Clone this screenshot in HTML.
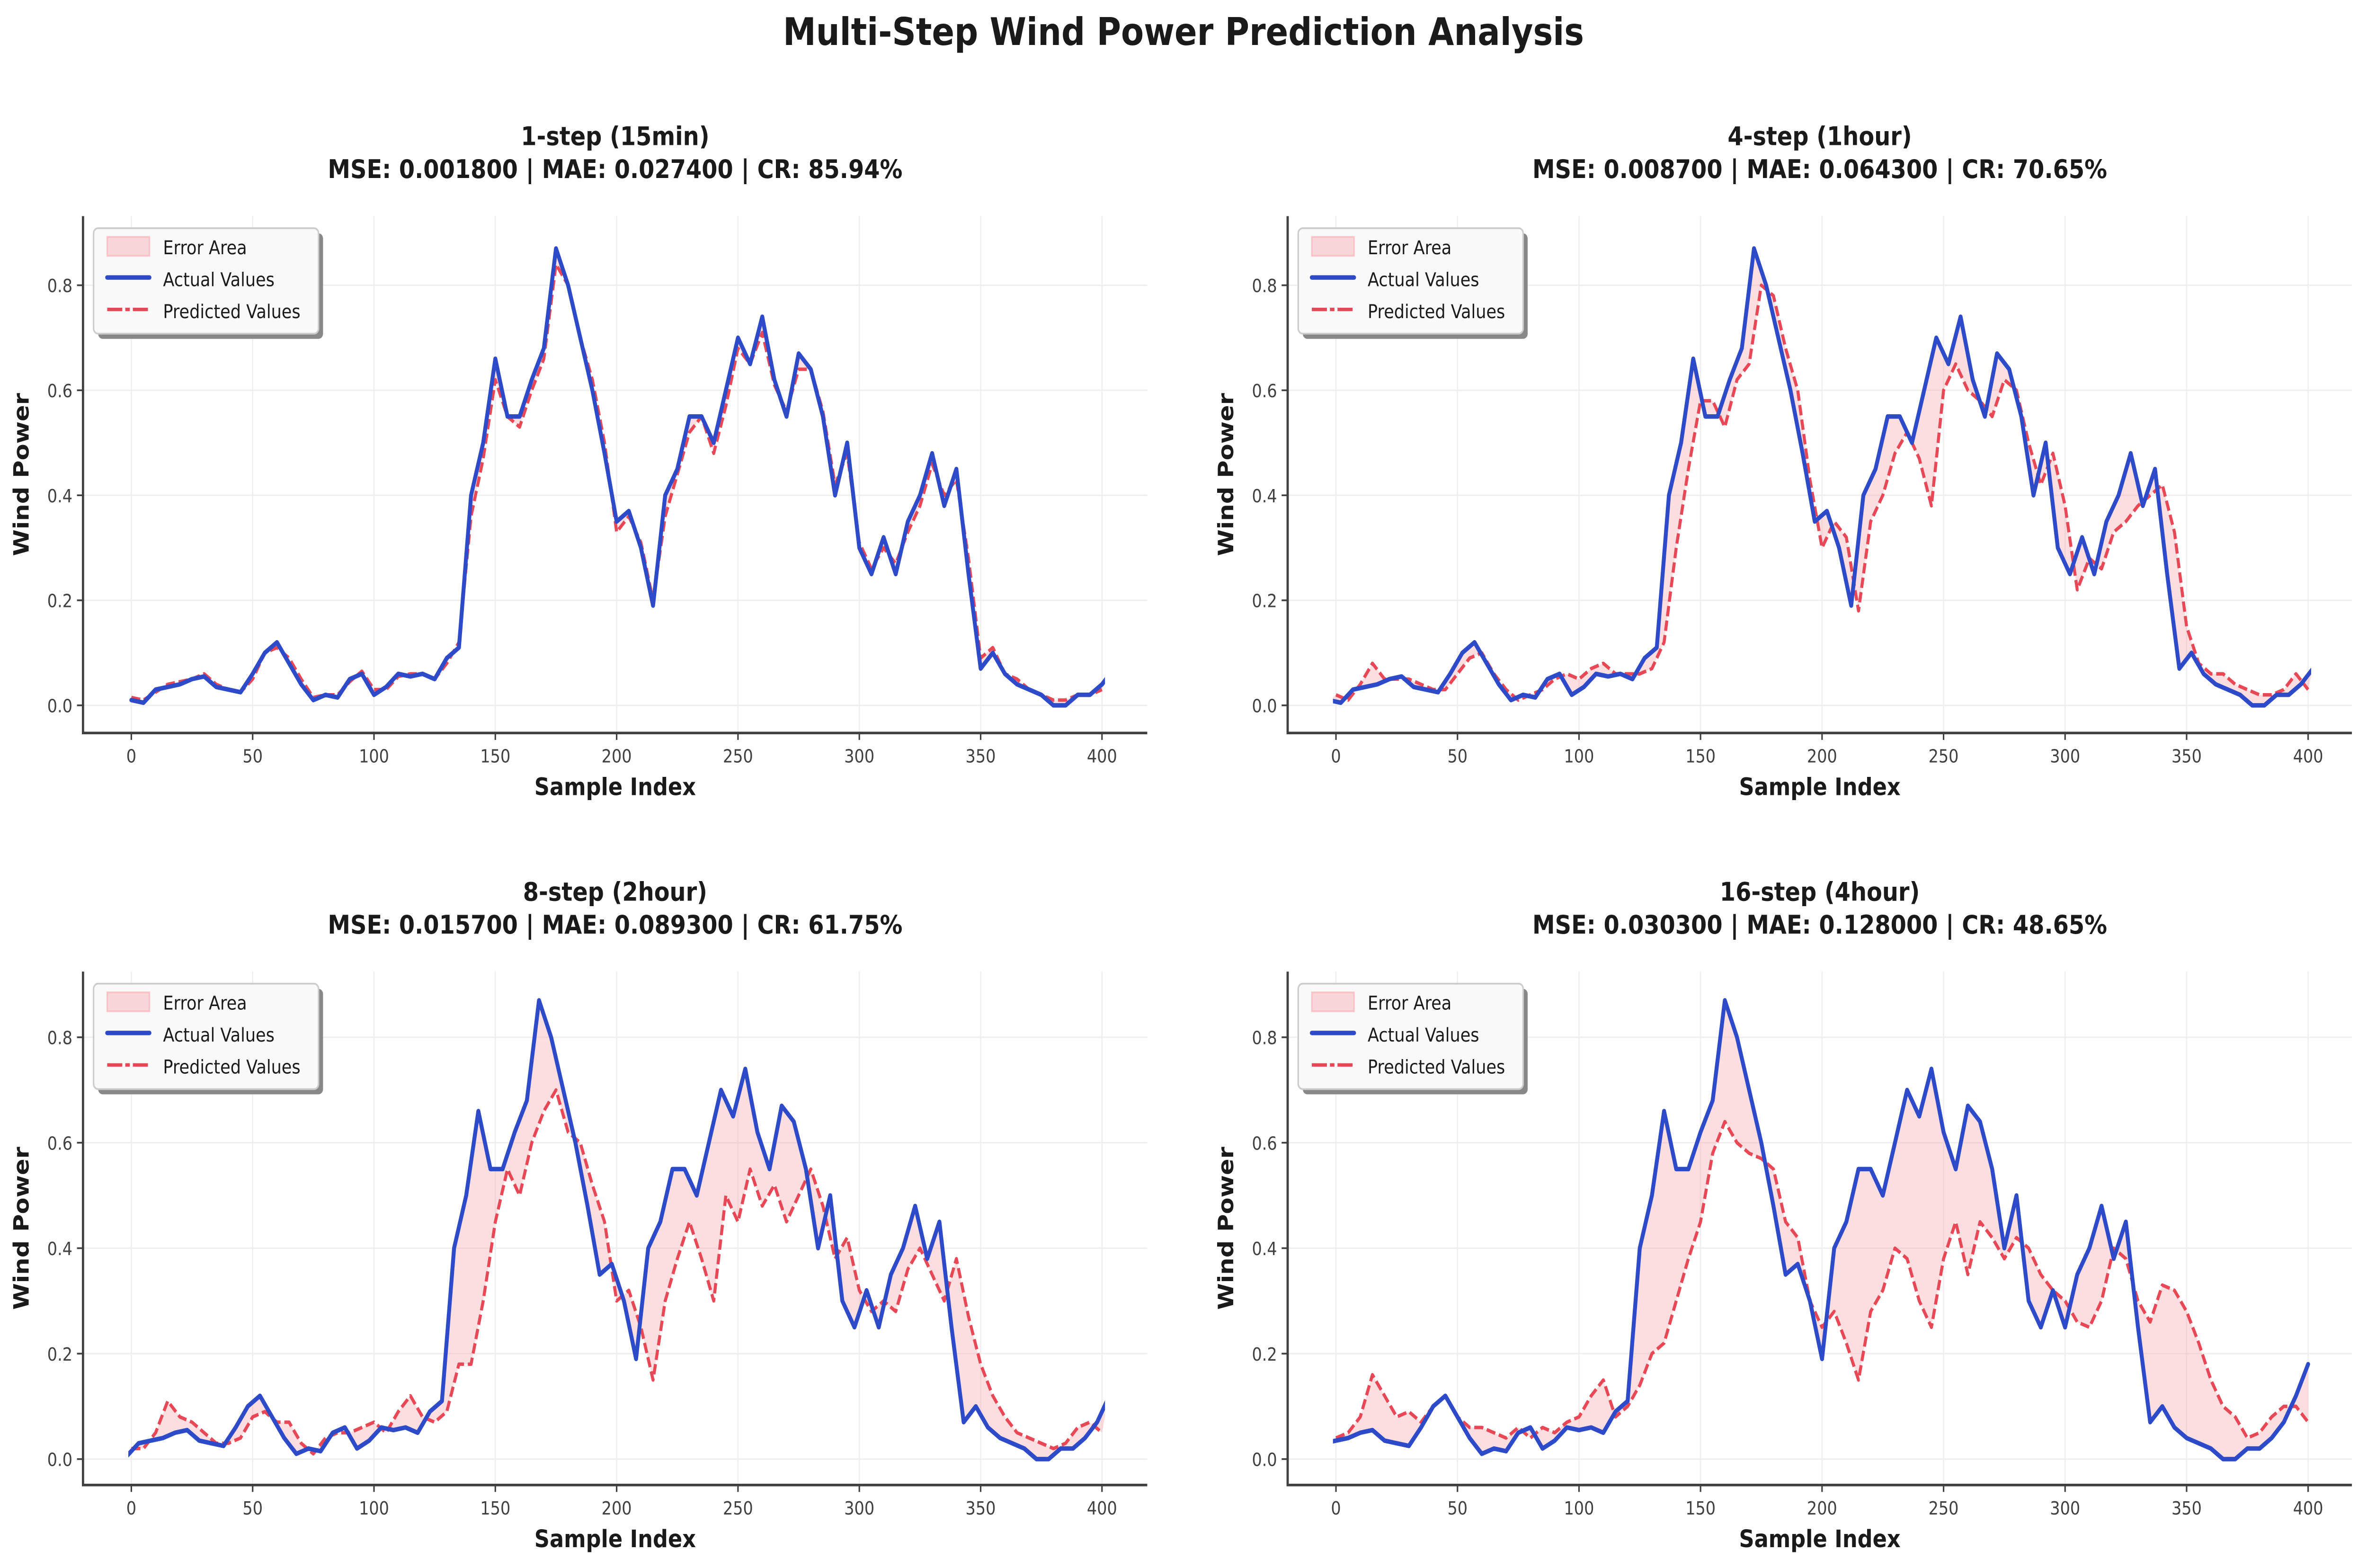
<!DOCTYPE html>
<html><head><meta charset="utf-8">
<style>
html,body{margin:0;padding:0;background:#fff;width:100%;height:100%;overflow:hidden;}
svg{display:block;width:100vw;height:100vh;}
text{font-family:"DejaVu Sans","Liberation Sans",sans-serif;}
</style></head>
<body>
<svg viewBox="0 0 1568 907" preserveAspectRatio="none" xmlns="http://www.w3.org/2000/svg">
<g id="fig">
<rect width="1568" height="907" fill="#fff"/>
<text x="784" y="26" text-anchor="middle" font-size="22" font-weight="bold" fill="#1a1a1a">Multi-Step Wind Power Prediction Analysis</text>
</g>
</svg>
<script>
// sample index step between stored values
const step = 5;
const actualValues = [0.01,0.005,0.03,0.035,0.04,0.05,0.055,0.035,0.03,0.025,0.06,0.10,0.12,0.08,0.04,0.01,0.02,0.015,0.05,0.06,0.02,0.035,0.06,0.055,0.06,0.05,0.09,0.11,0.40,0.50,0.66,0.55,0.55,0.62,0.68,0.87,0.80,0.70,0.60,0.48,0.35,0.37,0.30,0.19,0.40,0.45,0.55,0.55,0.50,0.60,0.70,0.65,0.74,0.62,0.55,0.67,0.64,0.55,0.40,0.50,0.30,0.25,0.32,0.25,0.35,0.40,0.48,0.38,0.45,0.25,0.07,0.10,0.06,0.04,0.03,0.02,0.00,0.00,0.02,0.02,0.04,0.07,0.12,0.18];
const pred1 = [0.015,0.01,0.025,0.04,0.045,0.05,0.06,0.04,0.03,0.025,0.05,0.10,0.11,0.09,0.05,0.015,0.02,0.02,0.045,0.065,0.03,0.03,0.055,0.06,0.06,0.05,0.08,0.12,0.36,0.47,0.62,0.55,0.53,0.60,0.66,0.84,0.80,0.70,0.62,0.50,0.33,0.36,0.31,0.20,0.36,0.44,0.52,0.55,0.48,0.57,0.68,0.65,0.71,0.61,0.56,0.64,0.64,0.56,0.42,0.48,0.31,0.26,0.30,0.27,0.33,0.38,0.46,0.40,0.43,0.28,0.09,0.11,0.06,0.05,0.03,0.02,0.01,0.01,0.02,0.02,0.03];
const pred2 = [0.02,0.01,0.04,0.08,0.05,0.05,0.05,0.04,0.03,0.03,0.06,0.09,0.10,0.06,0.03,0.01,0.02,0.03,0.05,0.06,0.05,0.07,0.08,0.06,0.06,0.06,0.07,0.12,0.30,0.45,0.58,0.58,0.53,0.62,0.65,0.80,0.78,0.68,0.60,0.43,0.30,0.35,0.32,0.18,0.35,0.40,0.48,0.52,0.47,0.38,0.60,0.65,0.60,0.58,0.55,0.62,0.60,0.50,0.42,0.48,0.38,0.22,0.28,0.26,0.33,0.35,0.38,0.40,0.42,0.33,0.15,0.08,0.06,0.06,0.04,0.03,0.02,0.02,0.03,0.06,0.03];
const pred3 = [0.02,0.02,0.05,0.11,0.08,0.07,0.05,0.03,0.03,0.04,0.08,0.09,0.07,0.07,0.03,0.01,0.04,0.05,0.05,0.06,0.07,0.05,0.09,0.12,0.08,0.07,0.09,0.18,0.18,0.30,0.45,0.55,0.50,0.60,0.66,0.70,0.62,0.60,0.52,0.45,0.30,0.32,0.25,0.15,0.30,0.38,0.45,0.38,0.30,0.50,0.45,0.55,0.48,0.52,0.45,0.50,0.55,0.48,0.38,0.42,0.32,0.28,0.30,0.28,0.36,0.40,0.35,0.30,0.38,0.27,0.18,0.12,0.08,0.05,0.04,0.03,0.02,0.03,0.06,0.07,0.05];
const pred4 = [0.04,0.05,0.08,0.16,0.12,0.08,0.09,0.07,0.10,0.12,0.08,0.06,0.06,0.05,0.04,0.06,0.04,0.06,0.05,0.07,0.08,0.12,0.15,0.08,0.10,0.14,0.20,0.22,0.30,0.38,0.45,0.58,0.64,0.60,0.58,0.57,0.55,0.45,0.42,0.30,0.25,0.28,0.22,0.15,0.28,0.32,0.40,0.38,0.30,0.25,0.38,0.45,0.35,0.45,0.42,0.38,0.42,0.40,0.35,0.32,0.30,0.26,0.25,0.30,0.40,0.38,0.30,0.26,0.33,0.32,0.28,0.22,0.15,0.10,0.08,0.04,0.05,0.08,0.10,0.10,0.07];
const panelTitles = ["1-step (15min)","4-step (1hour)","8-step (2hour)","16-step (4hour)"];
const mseValues = ["0.001800","0.008700","0.015700","0.030300"];
const maeValues = ["0.027400","0.064300","0.089300","0.128000"];
const crValues = ["85.94%","70.65%","61.75%","48.65%"];
const actualOffsets = [0,3,7,15];
const xTicks = [0,50,100,150,200,250,300,350,400];
const yTicks = [0.0,0.2,0.4,0.6,0.8];
const yTickLabels = ["0.0","0.2","0.4","0.6","0.8"];

const NS="http://www.w3.org/2000/svg";
const svg=document.getElementById('fig');
function mk(tag,attrs,parent){const e=document.createElementNS(NS,tag);for(const k in attrs)e.setAttribute(k,attrs[k]);(parent||svg).appendChild(e);return e;}

const panels=[
 {x0:87,x1:730,left:55,right:760,top:125,bottom:424,y0:408,y8:165},
 {x0:885,x1:1529,left:853,right:1558,top:125,bottom:424,y0:408,y8:165},
 {x0:87,x1:730,left:55,right:760,top:562,bottom:859,y0:844,y8:600},
 {x0:885,x1:1529,left:853,right:1558,top:562,bottom:859,y0:844,y8:600}];
const preds=[pred1,pred2,pred3,pred4];

panels.forEach((p,k)=>{
  const sx=v=>p.x0+(p.x1-p.x0)*v/400;
  const sy=v=>p.y0+(p.y8-p.y0)*v/0.8;
  const g=mk('g',{});
  
  
  const clip=mk('clipPath',{id:'c'+k},g);
  mk('rect',{x:sx(0)-2,y:p.top,width:sx(400)-sx(0)+4,height:p.bottom-p.top},clip);
  xTicks.forEach(t=>{const l=mk('line',{x1:sx(t),x2:sx(t),y1:p.top,y2:p.bottom,stroke:'#eee','stroke-width':0.8},g);
    });
  yTicks.forEach(t=>{const l=mk('line',{x1:p.left,x2:p.right,y1:sy(t),y2:sy(t),stroke:'#eee','stroke-width':0.8},g);
    });
  const aPts=[];actualValues.forEach((v,i)=>{const xi=i*step-actualOffsets[k];if(xi>=-step&&xi<=400+step)aPts.push([sx(xi),sy(v)]);});
  const pPts=preds[k].map((v,i)=>[sx(i*step),sy(v)]);
  const dg=mk('g',{'clip-path':'url(#c'+k+')'},g);
  const fill=mk('polygon',{points:aPts.concat(pPts.slice().reverse()).map(q=>q.join(',')).join(' '),fill:'#f7a1aa','fill-opacity':0.35,stroke:'none'},dg);
  
  const pl=mk('polyline',{points:pPts.map(q=>q.join(',')).join(' '),fill:'none',stroke:'#e84855','stroke-width':2,'stroke-dasharray':'6 2.5','stroke-linejoin':'round'},dg);
  
  const al=mk('polyline',{points:aPts.map(q=>q.join(',')).join(' '),fill:'none',stroke:'#2d4ac8','stroke-width':2.6,'stroke-linejoin':'round','stroke-linecap':'round'},dg);
  
  mk('line',{x1:p.left,x2:p.left,y1:p.top,y2:p.bottom+0.75,stroke:'#404040','stroke-width':1.5},g);
  mk('line',{x1:p.left,x2:p.right,y1:p.bottom,y2:p.bottom,stroke:'#404040','stroke-width':1.5},g);
  xTicks.forEach(t=>{mk('line',{x1:sx(t),x2:sx(t),y1:p.bottom,y2:p.bottom+4,stroke:'#404040','stroke-width':1},g);
    const tx=mk('text',{x:sx(t),y:p.bottom+17,'text-anchor':'middle','font-size':10.5,fill:'#404040'},g);tx.textContent=t;
    });
  yTicks.forEach((t,i)=>{mk('line',{x1:p.left-4,x2:p.left,y1:sy(t),y2:sy(t),stroke:'#404040','stroke-width':1},g);
    const tx=mk('text',{x:p.left-7,y:sy(t)+4,'text-anchor':'end','font-size':10.5,fill:'#404040'},g);tx.textContent=yTickLabels[i];
    });
  const xl=mk('text',{x:(p.left+p.right)/2,y:p.bottom+36,'text-anchor':'middle','font-size':14,'font-weight':'bold',fill:'#1a1a1a'},g);xl.textContent='Sample Index';
  
  const yc=(p.top+p.bottom)/2, yx=p.left-36;
  const yl=mk('text',{x:yx,y:yc,'text-anchor':'middle','font-size':14,'font-weight':'bold',fill:'#1a1a1a',transform:'rotate(-90 '+yx+' '+yc+')'},g);yl.textContent='Wind Power';
  
  const cx=(p.left+p.right)/2;
  const t1=mk('text',{x:cx,y:p.top-41,'text-anchor':'middle','font-size':15,'font-weight':'bold',fill:'#1a1a1a'},g);t1.textContent=panelTitles[k];
  
  const t2=mk('text',{x:cx,y:p.top-22,'text-anchor':'middle','font-size':15,'font-weight':'bold',fill:'#1a1a1a'},g);
  t2.textContent='MSE: '+mseValues[k]+' | MAE: '+maeValues[k]+' | CR: '+crValues[k];
  
  const lg=mk('g',{},g);
  const lx=p.left+7, ly=p.top+7;
  mk('rect',{x:lx+3,y:ly+3,width:149,height:61,rx:3,fill:'#888'},lg);
  mk('rect',{x:lx,y:ly,width:149,height:61,rx:3,fill:'#f9f9f9',stroke:'#ccc','stroke-width':1},lg);
  mk('rect',{x:lx+9,y:ly+5,width:28,height:11,fill:'#f7a1aa','fill-opacity':0.4,stroke:'#f7a1aa','stroke-opacity':0.5},lg);
  mk('line',{x1:lx+9,x2:lx+37,y1:ly+28.5,y2:ly+28.5,stroke:'#2d4ac8','stroke-width':2.6,'stroke-linecap':'round'},lg);
  mk('line',{x1:lx+9,x2:lx+37,y1:ly+47,y2:ly+47,stroke:'#e84855','stroke-width':2,'stroke-dasharray':'10 2 3 2'},lg);
  const labs=['Error Area','Actual Values','Predicted Values'];
  labs.forEach((s,i)=>{const tx=mk('text',{x:lx+46,y:ly+15+i*18.5,'font-size':11,fill:'#1a1a1a'},lg);tx.textContent=s;
    });
});
</script>
</body></html>
